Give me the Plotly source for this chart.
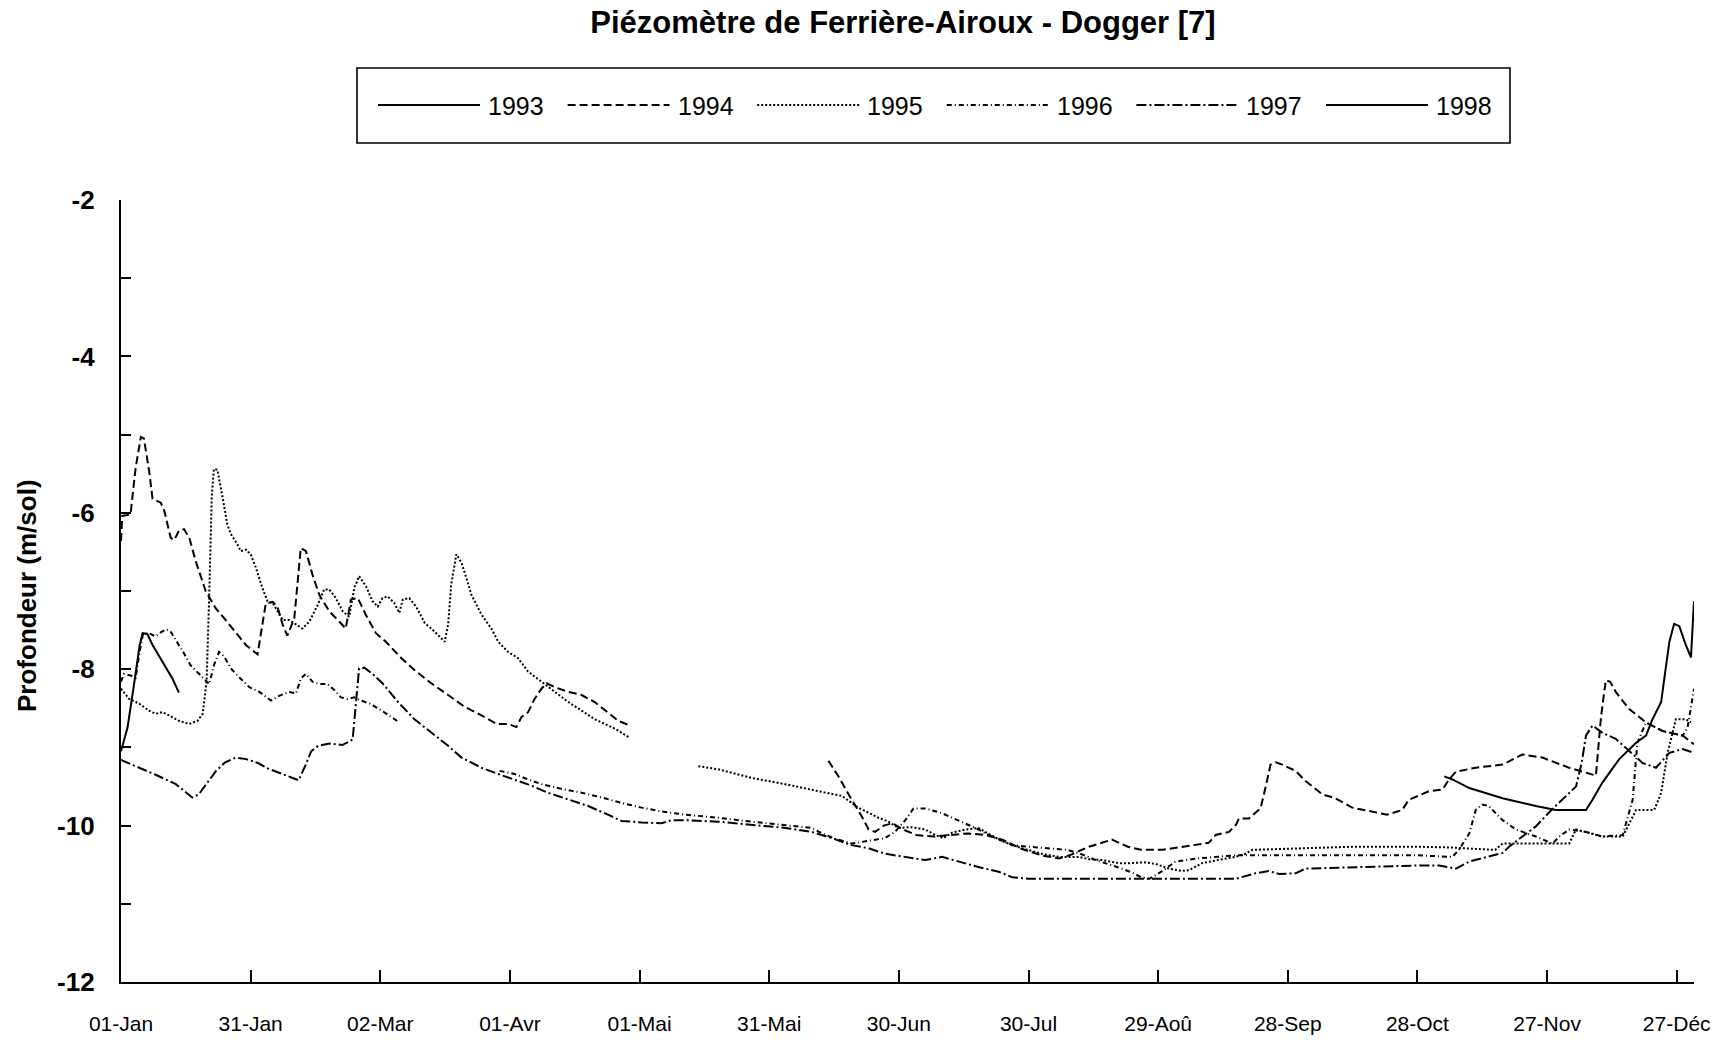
import plotly.graph_objects as go

# Day of year (0 = 1 January) and water depth (m below ground) for each year.
# None marks a gap in the record.
days_1993 = [306.2, 308.1, 312, 319.7, 327.4, 332, 339, 340.5, 342.8, 346.7, 350.6,
             352.9, 354.4, 356.4, 357.3, 358.3, 359.4, 360.6, 362.1, 363.3, 364]
depth_1993 = [-9.37, -9.41, -9.52, -9.65, -9.75, -9.8, -9.8, -9.67, -9.45, -9.15, -8.94,
              -8.85, -8.64, -8.42, -8.05, -7.65, -7.42, -7.45, -7.69, -7.85, -7.13]

days_1994 = [0, 0.3, 2.2, 3.4, 4.6, 5.3, 6.5, 7.3, 9.2, 10.0, 11.5, 12.3, 13.4, 14.6, 15.8,
             17.3, 19.6, 21.9, 24.2, 26.6, 28.9, 31.6, 33.5, 35.1, 36.2, 37.4, 38.5, 40.1,
             41.6, 42.8, 44.3, 45.9, 48.2, 50.5, 52.0, 53.2, 54.8, 56.7, 59.0, 61.3, 64.9,
             67.9, 71.8, 75.7, 79.5, 83.4, 86.9, 89.6, 91.5, 92.7, 94.2, 95.7, 97.3, 98.5,
             100.4, 103.5, 106.6, 109.6, 112.7, 115.1, 117.8,
             None,
             163.7, 166, 169.1, 171.4, 173, 174.5, 176.5, 178.5, 181, 184, 188, 192, 196,
             200, 204, 208.5, 213, 217, 219.5, 224, 229.3, 233, 236, 241, 245.5, 251.7,
             253.3, 256.4, 258, 258.7, 261, 263.7, 264.9, 266, 267.2, 268.7, 271.8, 274.1,
             278, 281, 284.9, 289, 293, 296.5, 298, 302.7, 305.8, 307.3, 308.9, 313.5,
             319.7, 324.3, 328.9, 335.1, 339, 341.3, 342.5, 343.6, 344.6, 345.9, 349,
             352.9, 356.7, 361.4, 364]
depth_1994 = [-6.36, -6.04, -6.02, -5.42, -5.03, -5.05, -5.46, -5.82, -5.87, -5.97, -6.32,
              -6.35, -6.23, -6.21, -6.32, -6.62, -7.0, -7.22, -7.37, -7.54, -7.69, -7.81,
              -7.16, -7.14, -7.20, -7.43, -7.57, -7.35, -6.45, -6.49, -6.79, -7.05, -7.26,
              -7.39, -7.48, -7.11, -7.09, -7.31, -7.54, -7.65, -7.86, -8.01, -8.18, -8.33,
              -8.48, -8.59, -8.70, -8.70, -8.74, -8.61, -8.55, -8.38, -8.25, -8.18, -8.23,
              -8.29, -8.33, -8.42, -8.55, -8.66, -8.72,
              None,
              -9.17, -9.37, -9.67, -9.88, -10.05, -10.08, -10.0, -9.97, -10.05, -10.12,
              -10.14, -10.12, -10.1, -10.12, -10.18, -10.3, -10.38, -10.42, -10.38, -10.27,
              -10.18, -10.27, -10.31, -10.31, -10.27, -10.22, -10.12, -10.08, -9.99, -9.91,
              -9.91, -9.78, -9.5, -9.22, -9.19, -9.22, -9.3, -9.43, -9.6, -9.65, -9.77,
              -9.82, -9.86, -9.80, -9.67, -9.56, -9.54, -9.41, -9.31, -9.26, -9.22, -9.09,
              -9.13, -9.26, -9.32, -9.36, -8.6, -8.14, -8.16, -8.29, -8.51, -8.68, -8.79,
              -8.85, -8.96]

days_1995 = [0, 1.9, 4.2, 6.5, 8.0, 9.6, 11.1, 13.4, 15.8, 17.7, 18.9, 19.8, 20.4, 21.0,
             21.5, 22.3, 23.5, 24.6, 25.4, 26.9, 27.7, 28.9, 30.0, 31.2, 32.7, 33.9, 35.1,
             36.2, 37.4, 38.9, 40.5, 42.0, 43.6, 45.5, 47.0, 48.2, 49.7, 51.3, 52.8, 54.0,
             55.1, 56.7, 58.2, 59.4, 60.5, 61.7, 63.2, 64.4, 65.2, 66.7, 68.3, 70.3, 72.6,
             74.9, 75.7, 76.4, 77.6, 78.8, 79.9, 81.1, 83.4, 85.7, 87.3, 89.6, 91.9, 94.2,
             97.3, 100.4, 103.5, 106.6, 109.6, 114.3, 117.8,
             None,
             133.6, 138.2, 145.9, 153.7, 161.4, 166.8, 170.6, 175.3, 177.6, 179.9, 183,
             186.1, 188.4, 190.3, 192.3, 195.4, 198.4, 200, 203.9, 208.5, 213.1, 217, 221.6,
             224, 227, 230.9, 233.2, 237, 239.4, 242.5, 245.5, 247.1, 250.2, 254.8, 257.9,
             260.2, 261.8, 273.3, 285, 300, 308, 314, 318, 319.7, 335.1, 336.7, 342.8,
             347.5, 349.8, 350.6, 354.8, 356.4, 357.9, 359.8, 362.1, 363.3]
depth_1995 = [-8.25, -8.38, -8.44, -8.53, -8.57, -8.55, -8.59, -8.66, -8.70, -8.66, -8.57,
              -8.16, -7.09, -5.80, -5.44, -5.45, -5.80, -6.15, -6.27, -6.40, -6.49, -6.47,
              -6.53, -6.70, -6.96, -7.13, -7.15, -7.26, -7.37, -7.37, -7.43, -7.48, -7.39,
              -7.18, -6.98, -6.98, -7.09, -7.26, -7.33, -6.96, -6.81, -6.94, -7.13, -7.2,
              -7.09, -7.07, -7.15, -7.28, -7.11, -7.09, -7.2, -7.41, -7.52, -7.65, -7.43,
              -6.92, -6.53, -6.64, -6.83, -7.05, -7.30, -7.48, -7.65, -7.78, -7.86, -8.03,
              -8.16, -8.29, -8.42, -8.53, -8.64, -8.76, -8.88,
              None,
              -9.24, -9.28, -9.39, -9.47, -9.56, -9.62, -9.77, -9.90, -9.95, -10.03, -10.02,
              -10.05, -10.12, -10.16, -10.09, -10.05, -10.03, -10.08, -10.2, -10.29, -10.36,
              -10.4, -10.4, -10.43, -10.44, -10.48, -10.48, -10.47, -10.49, -10.55, -10.58,
              -10.57, -10.48, -10.43, -10.4, -10.36, -10.31, -10.29, -10.27, -10.27, -10.28,
              -10.3, -10.31, -10.23, -10.23, -10.05, -10.14, -10.14, -9.9, -9.8, -9.8, -9.58,
              -9.07, -8.64, -8.64, -8.68]

days_1996 = [0, 0.7, 2.2, 3.4, 4.3, 5.1, 6.5, 8.0, 9.2, 10.4, 11.5, 13.0, 14.6, 16.1, 18.1,
             19.6, 20.4, 21.5, 22.7, 23.9, 25.4, 27.3, 29.7, 32.0, 34.7, 36.6, 38.9, 40.5,
             41.6, 42.8, 44.3, 45.9, 47.8, 49.4, 50.9, 52.4, 54.0, 55.5, 57.5, 59.8, 62.1,
             64.4,
             None,
             87.6, 91.1, 94.2, 97.3, 101.9, 106.6, 111.2, 115.8, 120.5, 125.1, 130.5, 138.2,
             145.9, 153.7, 159.8, 163, 166, 169.1, 172.2, 176.8, 179.1, 181.5, 183.4, 186.1,
             189.9, 193.8, 197.7, 200.8, 203.9, 206.2, 212, 219, 222, 226, 230, 234, 236,
             238, 241, 244, 249, 253.3, 258, 270, 285, 300, 308.1, 309.6, 312, 313.5, 315,
             316.5, 319.7, 322.8, 327.4, 331.3, 332.8, 335.1, 339, 342.8, 347.5, 349.8,
             350.9, 352.9, 356.7, 361.4, 362.5, 364]
depth_1996 = [-8.16, -8.06, -8.08, -8.11, -7.78, -7.55, -7.54, -7.58, -7.53, -7.49, -7.52,
              -7.65, -7.80, -7.95, -8.06, -8.14, -8.19, -7.95, -7.78, -7.84, -7.99, -8.10,
              -8.23, -8.29, -8.40, -8.34, -8.29, -8.31, -8.12, -8.06, -8.16, -8.19, -8.19,
              -8.27, -8.36, -8.38, -8.36, -8.40, -8.44, -8.51, -8.59, -8.68,
              None,
              -9.30, -9.34, -9.41, -9.47, -9.53, -9.58, -9.64, -9.71, -9.77, -9.82, -9.86,
              -9.90, -9.95, -10.0, -10.03, -10.12, -10.18, -10.23, -10.20, -10.16, -10.08,
              -9.93, -9.78, -9.78, -9.84, -9.93, -10.03, -10.12, -10.20, -10.25, -10.28,
              -10.31, -10.36, -10.45, -10.52, -10.6, -10.66, -10.68, -10.58, -10.46, -10.42,
              -10.40, -10.38, -10.38, -10.38, -10.38, -10.40, -10.31, -10.10, -9.80, -9.73,
              -9.75, -9.93, -10.05, -10.14, -10.23, -10.14, -10.05, -10.08, -10.14, -10.12,
              -9.67, -8.94, -8.68, -8.79, -8.85, -8.75, -8.25]

days_1997 = [0, 4, 8, 12.7, 16.5, 18, 20, 22, 24.1, 26.6, 29, 31.7, 34, 36.8, 39, 41.1,
             42.6, 44, 45.6, 48.2, 51.2, 53.6, 55.1, 56.3, 58.2, 60.5, 64.1, 67.9, 71.8,
             75.7, 78.8, 83.4, 87.3, 91.1, 95.0, 98.8, 103.5, 108.1, 112.7, 115.8, 120.5,
             125.1, 127.4, 130.5, 138.2, 145.9, 153.7, 159.8, 164.5, 169.1, 173, 176.8,
             181.5, 186.1, 190, 193.8, 198.4, 203.1, 206.2, 210, 258, 262.5, 265.6, 268,
             271.8, 274.1, 281, 290, 300, 305, 308.9, 312, 316, 319.7, 321.2, 324.3, 327.4,
             331, 335.1, 336.7, 338, 339, 340.5, 343, 345.9, 349, 352.1, 355.2, 358.3,
             361.4, 364]
depth_1997 = [-9.16, -9.25, -9.35, -9.47, -9.64, -9.6, -9.45, -9.3, -9.19, -9.13, -9.15,
              -9.2, -9.27, -9.33, -9.38, -9.42, -9.24, -9.05, -8.98, -8.95, -8.97, -8.9,
              -7.99, -7.98, -8.06, -8.18, -8.42, -8.64, -8.81, -8.98, -9.13, -9.26, -9.34,
              -9.41, -9.49, -9.58, -9.67, -9.75, -9.86, -9.94, -9.96, -9.97, -9.93, -9.93,
              -9.95, -9.99, -10.03, -10.08, -10.16, -10.25, -10.29, -10.36, -10.40, -10.44,
              -10.40, -10.46, -10.53, -10.59, -10.66, -10.68, -10.68, -10.61, -10.58, -10.62,
              -10.61, -10.55, -10.54, -10.52, -10.51, -10.51, -10.55, -10.46, -10.4, -10.35,
              -10.27, -10.14, -10.01, -9.8, -9.58, -9.5, -9.2, -8.85, -8.72, -8.82, -8.89,
              -9.05, -9.20, -9.26, -9.07, -9.02, -9.07]

days_1998 = [0, 1.5, 3.0, 4.3, 5.0, 6.1, 7.3, 8.5, 9.6, 10.8, 11.9, 13.4]
depth_1998 = [-9.05, -8.75, -8.2, -7.7, -7.54, -7.55, -7.69, -7.8, -7.91, -8.02, -8.12,
              -8.30]

years = ["1993", "1994", "1995", "1996", "1997", "1998"]
series_days = [days_1993, days_1994, days_1995, days_1996, days_1997, days_1998]
series_depth = [depth_1993, depth_1994, depth_1995, depth_1996, depth_1997, depth_1998]
dash_styles = ["solid", "8px,4px", "2px,2px", "5px,3px,1px,3px", "10px,3px,2px,3px", "solid"]

tick_days = [0, 30, 60, 90, 120, 150, 180, 210, 240, 270, 300, 330, 360]
tick_labels = ["01-Jan", "31-Jan", "02-Mar", "01-Avr", "01-Mai", "31-Mai", "30-Jun",
               "30-Jul", "29-Aoû", "28-Sep", "28-Oct", "27-Nov", "27-Déc"]
depth_ticks = [-12, -10, -8, -6, -4, -2]

FONT = "Arial, Liberation Sans, sans-serif"
W, H = 1721, 1040
L, R, T, B = 121, 27, 200, 58

fig = go.Figure()
for name, xs, ys, dash in zip(years, series_days, series_depth, dash_styles):
    fig.add_trace(go.Scatter(
        x=xs, y=ys, mode="lines", name=name, connectgaps=False,
        line=dict(color="black", width=2.0, dash=dash),
        showlegend=False,
    ))

# Boxed legend above the plot area (paper coordinates)
pw, ph = W - L - R, H - T - B
def px_x(px):
    return (px - L) / pw
def px_y(py):
    return (H - B - py) / ph

shapes = [dict(type="rect", xref="paper", yref="paper",
               x0=px_x(357), x1=px_x(1510), y0=px_y(143), y1=px_y(68),
               line=dict(color="black", width=1.6), fillcolor="white")]
annotations = []
for i, (name, dash) in enumerate(zip(years, dash_styles)):
    x0 = 378 + 189.6 * i
    shapes.append(dict(type="line", xref="paper", yref="paper",
                       x0=px_x(x0), x1=px_x(x0 + 102), y0=px_y(105), y1=px_y(105),
                       line=dict(color="black", width=1.8, dash=dash)))
    annotations.append(dict(xref="paper", yref="paper", x=px_x(x0 + 108), y=px_y(106),
                            xanchor="left", yanchor="middle", showarrow=False,
                            text=name, font=dict(family=FONT, size=25, color="black")))

annotations.append(dict(xref="paper", yref="paper", x=px_x(27), y=px_y(596),
                        textangle=-90, showarrow=False, xanchor="center", yanchor="middle",
                        text="<b>Profondeur (m/sol)</b>",
                        font=dict(family=FONT, size=26, color="black")))

fig.update_layout(
    width=W, height=H,
    margin=dict(l=L, r=R, t=T, b=B, pad=0),
    paper_bgcolor="white", plot_bgcolor="white",
    title=dict(text="<b>Piézomètre de Ferrière-Airoux - Dogger [7]</b>",
               x=903 / W, xanchor="center", y=1 - 22 / H, yanchor="middle",
               font=dict(family=FONT, size=31, color="black")),
    shapes=shapes, annotations=annotations,
    showlegend=False,
)
fig.update_xaxes(
    range=[0, 364], tickmode="array", tickvals=tick_days, ticktext=tick_labels,
    ticks="inside", ticklen=12, tickwidth=1.6, tickcolor="black",
    showline=True, linecolor="black", linewidth=2.2, showgrid=False, zeroline=False,
    ticklabelstandoff=22, automargin=False,
    tickfont=dict(family=FONT, size=21, color="black"),
)
fig.update_yaxes(
    range=[-12, -2], tickmode="array", tickvals=depth_ticks,
    ticktext=[f"<b>{v}</b>" for v in depth_ticks],
    ticks="inside", ticklen=10, tickwidth=1.6, tickcolor="black",
    minor=dict(tickmode="linear", tick0=-12, dtick=1, ticks="inside", ticklen=10,
               tickwidth=1.6, tickcolor="black", showgrid=False),
    showline=True, linecolor="black", linewidth=2.2, showgrid=False, zeroline=False,
    ticklabelstandoff=19, automargin=False,
    tickfont=dict(family=FONT, size=26, color="black"),
)

fig.write_html("out.html")
